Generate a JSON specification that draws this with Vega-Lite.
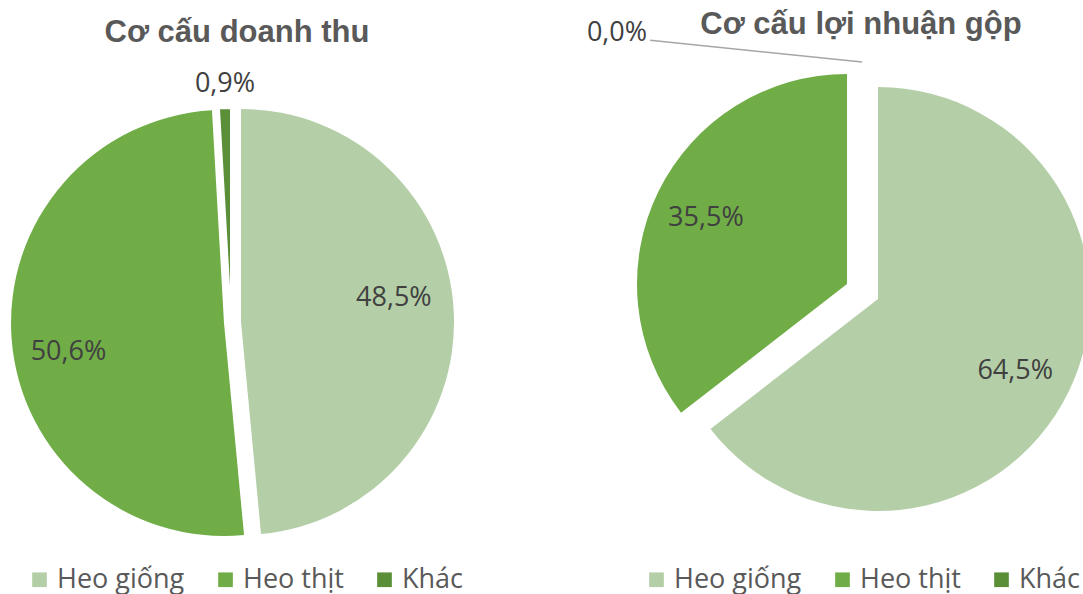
{
  "$schema": "https://vega.github.io/schema/vega-lite/v6.json",
  "padding": 0,
  "spacing": 215,
  "bounds": "flush",
  "datasets": {
    "dt": [
      {"cat": "Heo giống", "value": 48.5, "label": "48,5%"},
      {"cat": "Heo thịt", "value": 50.6, "label": "50,6%"},
      {"cat": "Khác", "value": 0.9, "label": "0,9%"}
    ],
    "ln": [
      {"cat": "Heo giống", "value": 64.5, "label": "64,5%"},
      {"cat": "Heo thịt", "value": 35.5, "label": "35,5%"},
      {"cat": "Khác", "value": 0.0, "label": "0,0%"}
    ]
  },
  "config": {
    "view": {"stroke": null},
    "title": {"font": "Liberation Sans", "fontSize": 31, "fontWeight": "bold", "color": "#595959", "anchor": "middle", "frame": "group", "baseline": "alphabetic", "orient": "top"},
    "legend": {"direction": "horizontal", "orient": "none", "title": null, "symbolType": "square", "symbolSize": 215, "symbolStrokeWidth": 0, "labelFont": "Open Sans", "labelFontSize": 27, "labelColor": "#595959", "labelOffset": 4, "columnPadding": 27, "labelLimit": 400, "padding": 0}
  },
  "resolve": {"legend": {"color": "independent"}},
  "hconcat": [
    {
      "width": 458,
      "height": 594,
      "data": {"name": "dt"},
      "title": {"text": "Cơ cấu doanh thu", "dx": 8, "offset": -49},
      "encoding": {
        "theta": {"field": "value", "type": "quantitative", "stack": true},
        "order": {"field": "cat", "type": "ordinal", "sort": "ascending"},
        "detail": {"field": "cat", "type": "nominal"}
      },
      "layer": [
        {
          "mark": {"type": "arc", "outerRadius": 213, "xOffset": 12, "yOffset": 25},
          "encoding": {
            "color": {"field": "cat", "type": "nominal", "scale": {"domain": ["Heo giống", "Heo thịt", "Khác"], "range": ["#B4CFA7", "#70AD47", "#5A8F38"]}, "legend": {"legendX": 26, "legendY": 566}},
            "opacity": {"condition": {"test": "datum.cat === 'Heo giống'", "value": 1}, "value": 0}
          }
        },
        {
          "mark": {"type": "arc", "outerRadius": 213, "xOffset": -5, "yOffset": 26},
          "encoding": {
            "color": {"field": "cat", "type": "nominal", "scale": {"domain": ["Heo giống", "Heo thịt", "Khác"], "range": ["#B4CFA7", "#70AD47", "#5A8F38"]}, "legend": {"legendX": 26, "legendY": 566}},
            "opacity": {"condition": {"test": "datum.cat === 'Heo thịt'", "value": 1}, "value": 0}
          }
        },
        {
          "mark": {"type": "arc", "outerRadius": 213, "xOffset": 2, "yOffset": 24, "stroke": "white", "strokeWidth": 2},
          "encoding": {
            "color": {"field": "cat", "type": "nominal", "scale": {"domain": ["Heo giống", "Heo thịt", "Khác"], "range": ["#B4CFA7", "#70AD47", "#5A8F38"]}, "legend": {"legendX": 26, "legendY": 566}},
            "opacity": {"condition": {"test": "datum.cat === 'Khác'", "value": 1}, "value": 0}
          }
        },
        {
          "mark": {"type": "text", "radius": 154, "xOffset": 12, "yOffset": 25, "dx": -1, "dy": -17, "font": "Open Sans", "fontSize": 27, "fill": "#404040"},
          "encoding": {"text": {"condition": {"test": "datum.cat === 'Heo giống'", "field": "label", "type": "nominal"}, "value": ""}}
        },
        {
          "mark": {"type": "text", "radius": 158, "xOffset": -5, "yOffset": 26, "dx": 2, "dy": 17, "font": "Open Sans", "fontSize": 27, "fill": "#404040"},
          "encoding": {"text": {"condition": {"test": "datum.cat === 'Heo thịt'", "field": "label", "type": "nominal"}, "value": ""}}
        },
        {
          "mark": {"type": "text", "radius": 0, "xOffset": 0, "yOffset": 25, "dx": -4, "dy": -238, "font": "Open Sans", "fontSize": 27, "fill": "#404040"},
          "encoding": {"text": {"condition": {"test": "datum.cat === 'Khác'", "field": "label", "type": "nominal"}, "value": ""}}
        }
      ]
    },
    {
      "width": 410,
      "height": 594,
      "data": {"name": "ln"},
      "title": {"text": "Cơ cấu lợi nhuận gộp", "dx": -17, "offset": -41},
      "encoding": {
        "theta": {"field": "value", "type": "quantitative", "stack": true},
        "order": {"field": "cat", "type": "ordinal", "sort": "ascending"},
        "detail": {"field": "cat", "type": "nominal"}
      },
      "layer": [
        {
          "mark": {"type": "arc", "outerRadius": 212, "xOffset": 0, "yOffset": 2, "clip": true},
          "encoding": {
            "color": {"field": "cat", "type": "nominal", "scale": {"domain": ["Heo giống", "Heo thịt", "Khác"], "range": ["#B4CFA7", "#70AD47", "#5A8F38"]}, "legend": {"legendX": -30, "legendY": 566}},
            "opacity": {"condition": {"test": "datum.cat === 'Heo giống'", "value": 1}, "value": 0}
          }
        },
        {
          "mark": {"type": "arc", "outerRadius": 210, "xOffset": -31, "yOffset": -13},
          "encoding": {
            "color": {"field": "cat", "type": "nominal", "scale": {"domain": ["Heo giống", "Heo thịt", "Khác"], "range": ["#B4CFA7", "#70AD47", "#5A8F38"]}, "legend": {"legendX": -30, "legendY": 566}},
            "opacity": {"condition": {"test": "datum.cat === 'Heo thịt'", "value": 1}, "value": 0}
          }
        },
        {
          "transform": [{"filter": "datum.cat === 'Khác'"}],
          "mark": {"type": "arc", "innerRadius": 0, "outerRadius": 213, "xOffset": -16, "yOffset": -235, "thetaOffset": 4.815, "theta2Offset": 4.815, "filled": false, "stroke": "#A6A6A6", "strokeWidth": 1.5}
        },
        {
          "mark": {"type": "text", "radius": 155, "xOffset": 0, "yOffset": 2, "dx": -2, "dy": 4, "font": "Open Sans", "fontSize": 27, "fill": "#404040"},
          "encoding": {"text": {"condition": {"test": "datum.cat === 'Heo giống'", "field": "label", "type": "nominal"}, "value": ""}}
        },
        {
          "mark": {"type": "text", "radius": 156, "xOffset": -31, "yOffset": -13, "dx": -1, "dy": 3, "font": "Open Sans", "fontSize": 27, "fill": "#404040"},
          "encoding": {"text": {"condition": {"test": "datum.cat === 'Heo thịt'", "field": "label", "type": "nominal"}, "value": ""}}
        },
        {
          "mark": {"type": "text", "radius": 0, "xOffset": 0, "yOffset": 2, "dx": -261, "dy": -266, "font": "Open Sans", "fontSize": 27, "fill": "#404040"},
          "encoding": {"text": {"condition": {"test": "datum.cat === 'Khác'", "field": "label", "type": "nominal"}, "value": ""}}
        }
      ]
    }
  ]
}
